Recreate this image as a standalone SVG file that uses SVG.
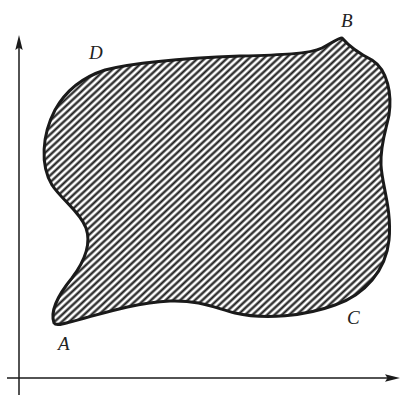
<svg xmlns="http://www.w3.org/2000/svg" width="401" height="395" viewBox="0 0 401 395">
<defs>
<pattern id="hatch" patternUnits="userSpaceOnUse" width="20" height="5" patternTransform="rotate(-43)">
<line x1="0" y1="2.5" x2="20" y2="2.5" stroke="#1a1a1a" stroke-width="2.2"/>
</pattern>
<style>
.axis{stroke:#1a1a1a;stroke-width:1.5;fill:none}
.head{fill:#1a1a1a}
.lbl{font-family:"Liberation Serif",serif;font-style:italic;font-size:19px;fill:#222}
</style>
</defs>
<g id="connectors">
<line class="axis" x1="19" y1="395" x2="19" y2="45"/>
<polygon class="head" points="19,35 15.3,50 19,47.5 22.7,50"/>
<line class="axis" x1="7" y1="378" x2="390" y2="378"/>
<polygon class="head" points="400,378 385,374.3 387.5,378 385,381.7"/>
</g>
<g id="region">
<path d="M54,323 C50,312 58,295 72,278 C84,262 92,245 86,228 C80,212 62,200 52,185 C40,165 42,135 55,110 C65,92 80,78 105,70 C140,61 190,58 240,56 C280,55 310,54 322,48 C332,43 338,38 342,38 C348,45 360,54 372,60 C388,70 392,95 389,115 C386,130 380,145 381,165 C382,185 392,210 389,240 C386,270 365,295 335,305 C305,316 265,320 235,313 C215,308 200,300 170,301 C130,303 95,316 70,322 C62,324 56,326 54,323 Z" fill="url(#hatch)" stroke="#1a1a1a" stroke-width="3" stroke-linejoin="round"/>
</g>
<g id="labelA"><text class="lbl" x="58" y="350">A</text></g>
<g id="labelB"><text class="lbl" x="341" y="27">B</text></g>
<g id="labelC"><text class="lbl" x="347" y="324">C</text></g>
<g id="labelD"><text class="lbl" x="89" y="59">D</text></g>
</svg>
